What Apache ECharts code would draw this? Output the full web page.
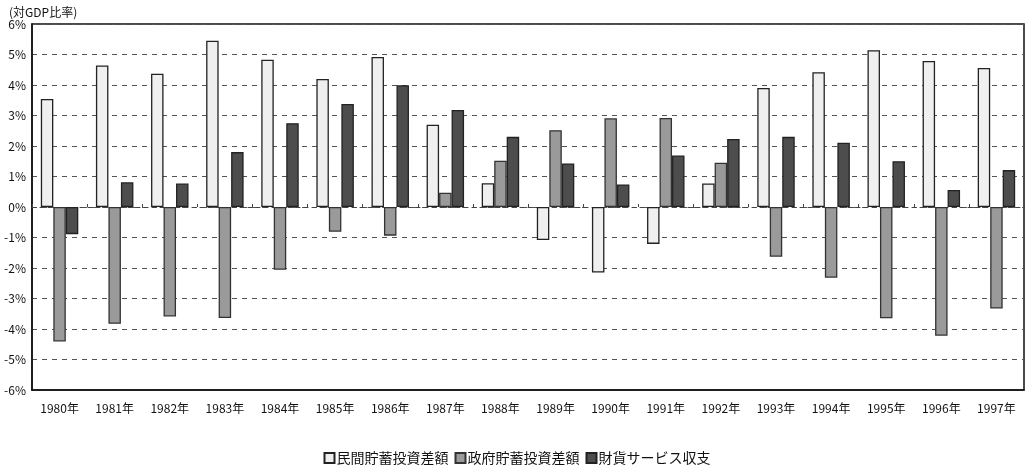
<!DOCTYPE html>
<html><head><meta charset="utf-8">
<script src="https://cdn.jsdelivr.net/npm/echarts@6/dist/echarts.min.js"></script>
<style>html,body{margin:0;padding:0;background:#fff}#c{width:1034px;height:474px}</style>
</head><body><div id="c"></div>
<script>
const categories = ['1980年','1981年','1982年','1983年','1984年','1985年','1986年','1987年','1988年','1989年','1990年','1991年','1992年','1993年','1994年','1995年','1996年','1997年'];
const privateBalance = [3.54,4.64,4.37,5.45,4.83,4.20,4.92,2.70,0.78,-1.08,-2.15,-1.21,0.77,3.90,4.42,5.14,4.79,4.56];
const govBalance = [-4.41,-3.83,-3.59,-3.64,-2.06,-0.81,-0.94,0.47,1.52,2.52,2.91,2.92,1.45,-1.63,-2.32,-3.65,-4.22,-3.33];
const tradeBalance = [-0.89,0.81,0.77,1.80,2.75,3.38,3.99,3.18,2.30,1.43,0.74,1.69,2.23,2.30,2.11,1.50,0.56,1.21];
const seriesNames = ['民間貯蓄投資差額','政府貯蓄投資差額','財貨サービス収支'];
const yTicks = [-6,-5,-4,-3,-2,-1,0,1,2,3,4,5,6];

const font = '"Noto Sans CJK JP","Noto Sans",sans-serif';
const chart = echarts.init(document.getElementById('c'));
chart.setOption({
  animation:false,
  backgroundColor:'#fff',
  textStyle:{fontFamily:font,color:'#111'},
  grid:{left:32,right:10,top:24,bottom:84,show:true,borderColor:'#111',borderWidth:1.5,containLabel:false},
  title:{text:'(対GDP比率)',left:4,top:1,textStyle:{fontSize:12,fontWeight:'normal',color:'#111',fontFamily:font}},
  legend:{bottom:4,left:'center',itemWidth:10,itemHeight:10,itemGap:6,icon:'rect',
    textStyle:{fontSize:14,color:'#111',fontFamily:font,padding:[0,0,0,-3]},data:seriesNames},
  xAxis:[{type:'category',data:categories,position:'bottom',
    axisLine:{onZero:false,lineStyle:{color:'#111',width:1.5}},
    axisTick:{show:false},
    axisLabel:{fontSize:12,color:'#111',margin:12,fontFamily:font},
    splitLine:{show:false}},
   {type:'category',data:categories,position:'bottom',offset:0,
    axisLine:{onZero:true,show:true,lineStyle:{color:'#444',width:1,type:[4,4]}},
    axisTick:{show:true,length:-3,lineStyle:{color:'#444'}},
    axisLabel:{show:false}}],
  yAxis:{type:'value',min:-6,max:6,interval:1,
    axisLine:{show:true,lineStyle:{color:'#111',width:1.5}},
    axisTick:{show:false},
    axisLabel:{formatter:v=>v+'%',fontSize:12,color:'#111',margin:6,fontFamily:font},
    splitLine:{show:true,lineStyle:{color:'#555',type:[5,5],width:1}}},
  series:[
    {name:seriesNames[0],type:'bar',data:privateBalance,barGap:'0%',barCategoryGap:'32%',
     itemStyle:{color:'#efefef',borderColor:'#222',borderWidth:1.3}},
    {name:seriesNames[1],type:'bar',data:govBalance,
     itemStyle:{color:'#9a9a9a',borderColor:'#333',borderWidth:1.3}},
    {name:seriesNames[2],type:'bar',data:tradeBalance,
     itemStyle:{color:'#4d4d4d',borderColor:'#222',borderWidth:1.3}}
  ]
});
</script></body></html>
